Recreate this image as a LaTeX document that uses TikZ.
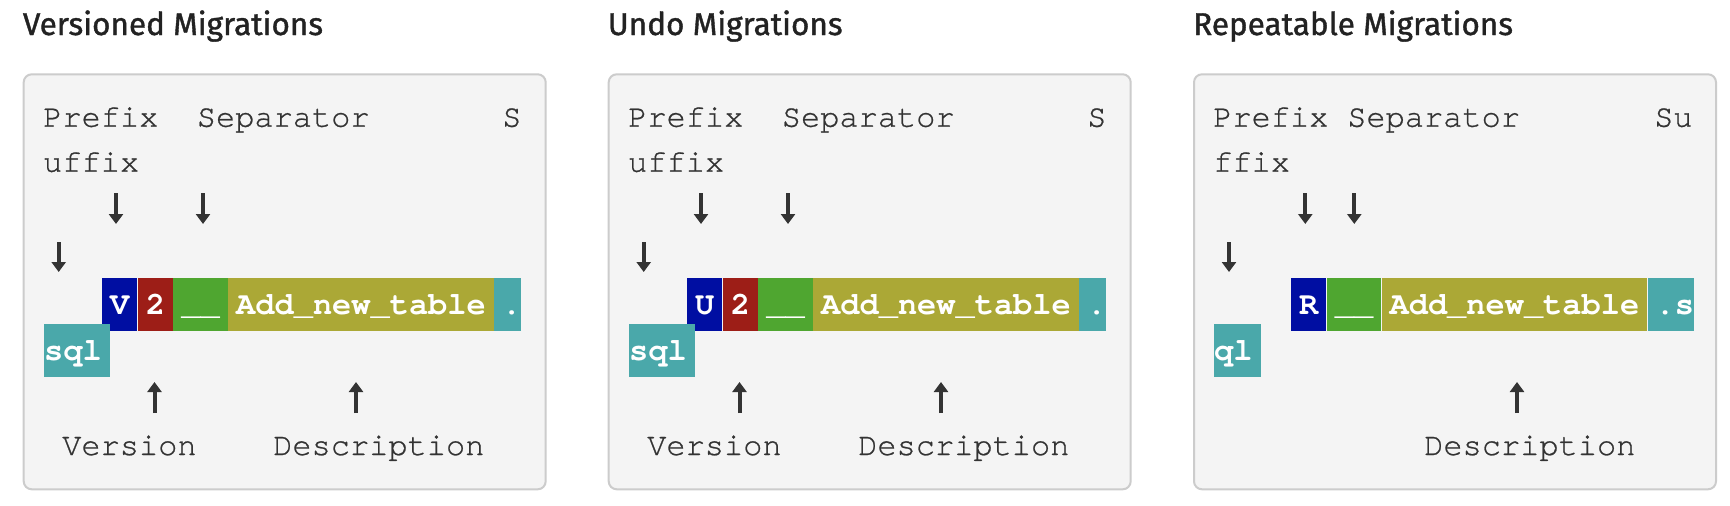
\documentclass[tikz,border=0pt]{standalone}
\usepackage{fontspec}
\usetikzlibrary{arrows.meta}
\newfontfamily\titlefont{Fira Sans}[FakeBold=1.2]
\newfontfamily\codefont{TeX Gyre Cursor}[Ligatures={NoCommon,NoRequired,NoContextual}]
\newfontfamily\codelblfont{TeX Gyre Cursor}[Ligatures={NoCommon,NoRequired,NoContextual},FakeBold=0.7]
\definecolor{vblue}{RGB}{0,14,162}
\definecolor{vred}{RGB}{157,30,23}
\definecolor{vgreen}{RGB}{79,166,48}
\definecolor{volive}{RGB}{171,168,54}
\definecolor{vteal}{RGB}{74,168,170}
\definecolor{boxbg}{RGB}{244,244,244}
\definecolor{bordc}{RGB}{204,204,204}
\definecolor{txt}{RGB}{51,51,51}
\definecolor{ttlc}{RGB}{34,34,34}
\tikzset{
  lbl/.style={anchor=base west, inner sep=0pt, font=\codelblfont\fontsize{32}{38}\selectfont, text=txt},
  ttl/.style={anchor=base west, inner sep=0pt, font=\titlefont\fontsize{31.5}{36}\selectfont, text=ttlc},
  blk/.style={anchor=base west, inner ysep=0pt, inner xsep=8pt, text height=36pt, text depth=17pt,
    font=\codefont\bfseries\fontsize{32}{38}\selectfont, text=white},
  blkc/.style={blk, inner xsep=0pt},
  panel/.style={draw=bordc, line width=2pt, fill=boxbg, rounded corners=8pt, anchor=north west,
    minimum width=522pt, minimum height=415pt, inner sep=0pt},
  arr/.style={draw=txt, line width=4pt, -{Triangle[width=14pt,length=10pt]}},
}
\begin{document}
\begin{tikzpicture}[x=1pt,y=-1pt]
\useasboundingbox[fill=white] (0,0) rectangle (1730,506);
% panels 1 and 2
\foreach \p/\dx/\L/\T in {a/0/V/Versioned Migrations, b/585/U/Undo Migrations}{
\begin{scope}[xshift=\dx pt]
  \node[ttl] (\p-title) at (22.7,35) {\T};
  \node[panel] (\p-box) at (22.7,73.3) {};
  \node[lbl] (\p-prefix) at (43,126.7) {Prefix};
  \node[lbl] (\p-sep) at (196.6,126.7) {Separator};
  \node[lbl] (\p-s) at (502,126.7) {S};
  \node[lbl] (\p-uffix) at (43,171.7) {uffix};
  \coordinate (\p-d1s) at (116,193); \coordinate (\p-d1e) at (116,224);
  \coordinate (\p-d2s) at (203,193); \coordinate (\p-d2e) at (203,224);
  \coordinate (\p-d3s) at (58.7,242); \coordinate (\p-d3e) at (58.7,272);
  \draw[arr] (\p-d1s) -- (\p-d1e);
  \draw[arr] (\p-d2s) -- (\p-d2e);
  \draw[arr] (\p-d3s) -- (\p-d3e);
  \node[blk, fill=vblue] (\p-pre) at (102,314) {\L};
  \node[blk, fill=vred] (\p-ver) at (\p-pre.base east) {2};
  \node[blk, fill=vgreen] (\p-und) at (\p-ver.base east) {\_\_};
  \node[blk, fill=volive] (\p-desc) at (\p-und.base east) {Add\_new\_table};
  \node[blkc, fill=vteal] (\p-dot) at (\p-desc.base east) {\hspace*{8pt}.};
  \node[blkc, fill=vteal] (\p-sql) at (44,360) {sql\hspace*{8pt}};
  \coordinate (\p-u1s) at (154.5,413); \coordinate (\p-u1e) at (154.5,382);
  \coordinate (\p-u2s) at (356,413); \coordinate (\p-u2e) at (356,382);
  \draw[arr] (\p-u1s) -- (\p-u1e);
  \draw[arr] (\p-u2s) -- (\p-u2e);
  \node[lbl] (\p-version) at (62,455) {Version};
  \node[lbl] (\p-description) at (273,455) {Description};
\end{scope}
}
% panel 3
\node[ttl] (c-title) at (1193,35) {Repeatable Migrations};
\node[panel] (c-box) at (1193,73.3) {};
\node[lbl] (c-prefix) at (1213,126.7) {Prefix};
\node[lbl] (c-sep) at (1347,126.7) {Separator};
\node[lbl] (c-su) at (1654,126.7) {Su};
\node[lbl] (c-ffix) at (1213,171.7) {ffix};
\coordinate (c-d1s) at (1305.3,193); \coordinate (c-d1e) at (1305.3,224);
\coordinate (c-d2s) at (1354.3,193); \coordinate (c-d2e) at (1354.3,224);
\coordinate (c-d3s) at (1229,242); \coordinate (c-d3e) at (1229,272);
\draw[arr] (c-d1s) -- (c-d1e);
\draw[arr] (c-d2s) -- (c-d2e);
\draw[arr] (c-d3s) -- (c-d3e);
\node[blk, fill=vblue] (c-pre) at (1291,314) {R};
\node[blk, fill=vgreen] (c-und) at (c-pre.base east) {\_\_};
\node[blk, fill=volive] (c-desc) at (c-und.base east) {Add\_new\_table};
\node[blkc, fill=vteal] (c-dot) at (c-desc.base east) {\hspace*{8pt}.s};
\node[blkc, fill=vteal] (c-sql) at (1214,360) {ql\hspace*{8pt}};
\coordinate (c-u1s) at (1517,413); \coordinate (c-u1e) at (1517,382);
\draw[arr] (c-u1s) -- (c-u1e);
\node[lbl] (c-description) at (1424,455) {Description};
\end{tikzpicture}
\end{document}
